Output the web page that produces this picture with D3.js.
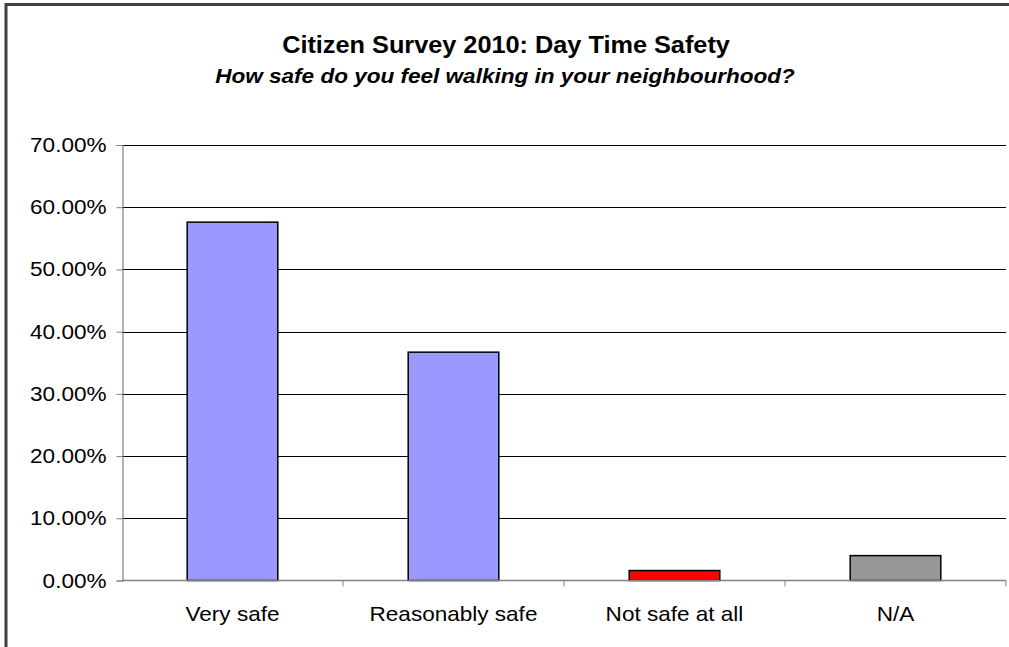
<!DOCTYPE html>
<html>
<head>
<meta charset="utf-8">
<script src="https://cdn.jsdelivr.net/npm/d3@7"></script>
<style>
  html, body { margin: 0; padding: 0; background: #fff; overflow: hidden; }
  svg { display: block; font-family: "Liberation Sans", Arial, sans-serif; }
</style>
</head>
<body>
<svg id="chart" width="1009" height="647"></svg>
<script>
// Survey responses (share of respondents)
const categories = ["Very safe", "Reasonably safe", "Not safe at all", "N/A"];
const shares = [0.576, 0.367, 0.016, 0.040];
const barColors = ["#9999FF", "#9999FF", "#FF0000", "#969696"];
const yTicks = [0, 0.1, 0.2, 0.3, 0.4, 0.5, 0.6, 0.7];

const titleText = "Citizen Survey 2010: Day Time Safety";
const subtitleText = "How safe do you feel walking in your neighbourhood?";

const svg = d3.select("#chart");
const plot = { left: 122, right: 1006, top: 145, bottom: 580.5 };
const stretch = 1.1; // horizontal stretch of all chart text

// Chart frame (left and top edges inside the view)
svg.append("path")
  .attr("d", "M6,647 L6,4.5 L1009,4.5")
  .attr("fill", "none")
  .attr("stroke", "#404040")
  .attr("stroke-width", 3);

// Titles
svg.append("text")
  .attr("transform", `translate(506,53) scale(${stretch},1)`)
  .attr("text-anchor", "middle")
  .attr("font-size", 23).attr("font-weight", "bold")
  .attr("fill", "#000")
  .text(titleText);

svg.append("text")
  .attr("transform", `translate(505,83) scale(${stretch},1)`)
  .attr("text-anchor", "middle")
  .attr("font-size", 20.5).attr("font-weight", "bold").attr("font-style", "italic")
  .attr("fill", "#000")
  .text(subtitleText);

const x = d3.scaleBand()
  .domain(categories)
  .range([plot.left, plot.right])
  .paddingInner(0.59)
  .paddingOuter(0.295);

const xOuter = d3.scaleBand()
  .domain(categories)
  .range([plot.left, plot.right]);

const y = d3.scaleLinear()
  .domain([0, 0.7])
  .range([plot.bottom, plot.top]);

// Horizontal gridlines
svg.append("g")
  .selectAll("line")
  .data(yTicks.filter(d => d > 0))
  .join("line")
  .attr("x1", plot.left).attr("x2", plot.right)
  .attr("y1", d => Math.round(y(d)) + 0.5)
  .attr("y2", d => Math.round(y(d)) + 0.5)
  .attr("stroke", "#000")
  .attr("stroke-width", 1);

// Y axis
const yAxis = svg.append("g")
  .attr("transform", `translate(${plot.left + 0.5},0)`)
  .call(d3.axisLeft(y)
    .tickValues(yTicks)
    .tickFormat(d => (d * 100).toFixed(2) + "%")
    .tickSize(6)
    .tickPadding(10));
yAxis.select(".domain").attr("stroke", "#808080").attr("stroke-width", 1.2);
yAxis.selectAll(".tick line").attr("stroke", "#808080");
yAxis.selectAll(".tick text")
  .attr("x", null)
  .attr("transform", `translate(-16,0) scale(${stretch},1)`)
  .attr("font-size", 20.5)
  .attr("fill", "#000")
  .attr("font-family", "Liberation Sans, Arial, sans-serif");

// Bars
svg.append("g")
  .selectAll("rect")
  .data(categories)
  .join("rect")
  .attr("x", d => x(d))
  .attr("width", x.bandwidth())
  .attr("y", (d, i) => y(shares[i]))
  .attr("height", (d, i) => plot.bottom - y(shares[i]))
  .attr("fill", (d, i) => barColors[i])
  .attr("stroke", "#000")
  .attr("stroke-width", 1.5);

// X axis line at zero
svg.append("line")
  .attr("x1", plot.left).attr("x2", plot.right)
  .attr("y1", plot.bottom).attr("y2", plot.bottom)
  .attr("stroke", "#808080").attr("stroke-width", 1.5);

// Category boundary ticks
const boundaries = categories.map(c => xOuter(c) + xOuter.bandwidth());
svg.append("g")
  .selectAll("line")
  .data(boundaries)
  .join("line")
  .attr("x1", d => d).attr("x2", d => d)
  .attr("y1", plot.bottom).attr("y2", plot.bottom + 6)
  .attr("stroke", "#808080").attr("stroke-width", 1);

// Category labels
svg.append("g")
  .selectAll("text")
  .data(categories)
  .join("text")
  .attr("transform", d => `translate(${xOuter(d) + xOuter.bandwidth() / 2},621) scale(${stretch},1)`)
  .attr("text-anchor", "middle")
  .attr("font-size", 20.5)
  .attr("fill", "#000")
  .text(d => d);
</script>
</body>
</html>
